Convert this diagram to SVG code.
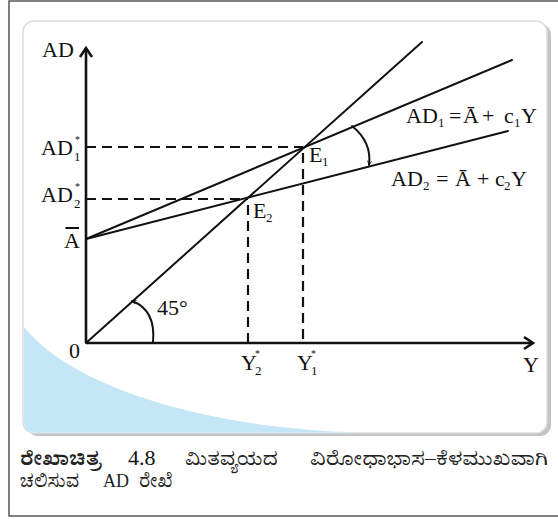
<svg xmlns="http://www.w3.org/2000/svg" width="558" height="519" viewBox="0 0 558 519">
<style>
.t{font-family:"Liberation Serif","DejaVu Serif",serif;font-size:22px;fill:#111}
.s{font-size:13px}
.st{font-size:10px}
.k{font-family:"Noto Serif Kannada","Noto Sans Kannada","Noto Sans",sans-serif;font-size:18px;fill:#222}
.ln{stroke:#111;stroke-width:2;fill:none;stroke-linecap:round}
.ax{stroke:#111;stroke-width:2.6;fill:none}
.dh{stroke:#111;stroke-width:2.2;fill:none;stroke-dasharray:10 6}
</style>
<defs>
<marker id="ah" viewBox="0 0 10 10" refX="9" refY="5" markerWidth="5" markerHeight="5" orient="auto" markerUnits="userSpaceOnUse">
<path d="M1,1 L9,5 L1,9" fill="none" stroke="#111" stroke-width="1.6"/>
</marker>
</defs>
<rect x="9" y="1" width="560" height="515" fill="#fff" stroke="#555" stroke-width="1.5"/>
<g id="panel">
<rect x="27" y="24" width="524" height="412" rx="11" fill="#aaa" opacity="0.7"/>
<rect x="23" y="21" width="524" height="412" rx="11" fill="#fff" stroke="#ddd" stroke-width="1.5"/>
<path d="M24,327 C70,385 200,428 360,432.5 L34,432.5 Q24,432.5 24,422 Z" fill="#c5e6f6"/>
</g>
<g id="connectors">
<path class="ax" d="M86,343 L86,48"/>
<path class="ax" d="M80,57 L86,48 L92,57"/>
<path class="ax" d="M86,343 L533,343"/>
<path class="ax" d="M524,337 L533,343 L524,349"/>
<path class="dh" d="M86,147 L303,147"/>
<path class="dh" d="M86,199 L248,199"/>
<path class="dh" d="M248,205 L248,343"/>
<path class="dh" d="M303,153 L303,343"/>
<path class="ln" d="M86,343 L422,42"/>
<path class="ln" d="M86,239 L512,60"/>
<path class="ln" d="M86,239 L508,131"/>
<path class="ln" d="M352,126 Q372,142 369,165" marker-end="url(#ah)"/>
<path class="ln" d="M153,342 Q156,310 132,301" marker-end="url(#ah)"/>
</g>
<g id="labels">
<text class="t" x="42" y="57">AD</text>
<text class="t" x="41" y="155">AD<tspan class="s" x="74" y="161">1</tspan><tspan class="st" x="75" y="143">*</tspan></text>
<text class="t" x="41" y="202">AD<tspan class="s" x="74" y="208">2</tspan><tspan class="st" x="75" y="190">*</tspan></text>
<text class="t" x="64" y="248">A</text>
<path d="M65.5,228 L79,228" stroke="#111" stroke-width="2"/>
<text class="t" x="69" y="358">0</text>
<text class="t" x="157" y="315">45°</text>
<text class="t" x="309" y="162">E<tspan class="s" x="322" y="166">1</tspan></text>
<text class="t" x="253" y="218">E<tspan class="s" x="266" y="222">2</tspan></text>
<text class="t" x="241" y="370">Y<tspan class="s" x="255" y="375">2</tspan><tspan class="st" x="255" y="357">*</tspan></text>
<text class="t" x="297" y="370">Y<tspan class="s" x="311" y="375">1</tspan><tspan class="st" x="311" y="357">*</tspan></text>
<text class="t" x="523" y="372">Y</text>
<text class="t" x="406" y="123">AD<tspan class="s" x="438" y="127">1</tspan><tspan x="449" y="123">=</tspan><tspan x="463">Ā</tspan><tspan x="482">+</tspan><tspan x="504">c</tspan><tspan class="s" x="514" y="127">1</tspan><tspan x="521" y="123">Y</tspan></text>
<text class="t" x="391" y="186">AD<tspan class="s" x="423" y="190">2</tspan><tspan x="436" y="186">=</tspan><tspan x="455">Ā</tspan><tspan x="477">+</tspan><tspan x="495">c</tspan><tspan class="s" x="504" y="190">2</tspan><tspan x="511" y="186">Y</tspan></text>
</g>
<g id="caption">
<text class="k" x="20" y="465" font-weight="bold" textLength="80" lengthAdjust="spacingAndGlyphs">ರೇಖಾಚಿತ್ರ</text>
<text class="t" x="128" y="465" font-size="19">4.8</text>
<text class="k" x="185" y="465" textLength="93" lengthAdjust="spacingAndGlyphs">ಮಿತವ್ಯಯದ</text>
<text class="k" x="310" y="465" textLength="238" lengthAdjust="spacingAndGlyphs">ವಿರೋಧಾಭಾಸ–ಕೆಳಮುಖವಾಗಿ</text>
<text class="k" x="20" y="487" font-size="19">ಚಲಿಸುವ<tspan x="103" style="font-family:'Liberation Serif',serif">AD</tspan><tspan x="139">ರೇಖೆ</tspan></text>
</g>
</svg>
